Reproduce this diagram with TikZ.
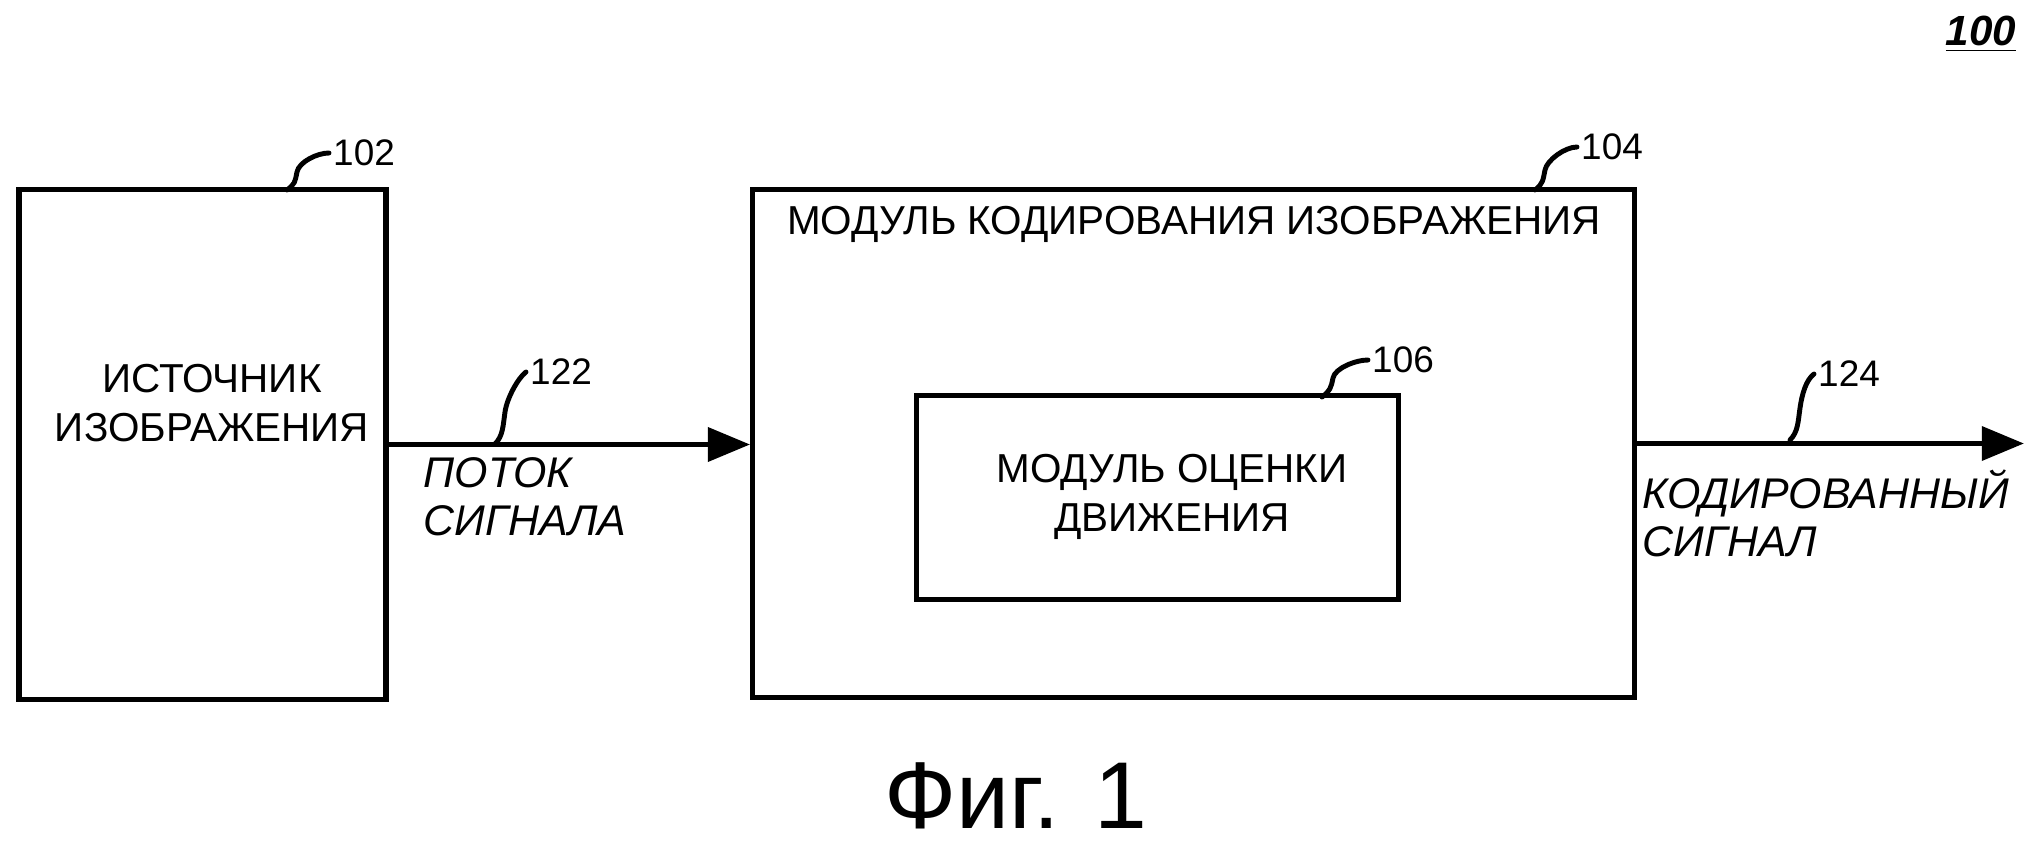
\documentclass[tikz,border=0pt]{standalone}
\usepackage{fontspec}
\setmainfont{Liberation Sans}
\usetikzlibrary{arrows.meta}

\begin{document}
\begin{tikzpicture}[x=0.01cm, y=-0.01cm]

\tikzset{
  block/.style = {draw, line width=1.5pt, fill=white, inner sep=0pt},
  txt/.style = {font=\fontsize{11.5}{14}\selectfont, align=center, inner sep=0pt},
  lbl/.style = {font=\fontsize{12.2}{13.7}\selectfont\itshape, align=left, inner sep=0pt, anchor=north west},
  num/.style = {font=\fontsize{10.5}{12}\selectfont, inner sep=1pt, anchor=west},
  sig/.style = {line width=1.6pt, -{Triangle[length=12pt, width=9.5pt]}},
  lead/.style = {line width=1.4pt, line cap=round}
}

\useasboundingbox (0,0) rectangle (2030,846);

\node[font=\fontsize{12}{14}\selectfont\bfseries\itshape] (n100) at (1981,34) {\underline{100}};

\node[block, minimum width=3.67cm, minimum height=5.09cm] (b102) at (202.5,444.5) {};
\node[txt] (t102) at (212,403) {ИСТОЧНИК\\ИЗОБРАЖЕНИЯ};

\node[block, minimum width=8.81cm, minimum height=5.07cm] (b104) at (1193.5,443.5) {};
\node[txt, anchor=north] (t104) at (1194,206) {МОДУЛЬ КОДИРОВАНИЯ ИЗОБРАЖЕНИЯ};

\node[block, line width=1.4pt, minimum width=4.81cm, minimum height=2.03cm] (b106) at (1157.5,497.5) {};
\node[txt] (t106) at (1172,497) {МОДУЛЬ ОЦЕНКИ\\ДВИЖЕНИЯ};

\coordinate (out) at (2024,443.5);
\draw[sig] (b102.east) -- (b104.west |- b102.east);
\draw[sig] (b104.east) -- (out);

\node[lbl] (l122) at (423,457) {ПОТОК\\СИГНАЛА};
\node[lbl] (l124) at (1642,469) {КОДИРОВАННЫЙ\\СИГНАЛ};

\node[num] (n102) at (329,153) {102};
\node[num] (n104) at (1577,147) {104};
\node[num] (n106) at (1368,360) {106};
\node[num] (n122) at (526,372) {122};
\node[num] (n124) at (1814,374) {124};

\coordinate (s102) at (287,190);
\coordinate (s104) at (1535,190);
\coordinate (s106) at (1322,397);
\coordinate (s122) at (495,444);
\coordinate (s124) at (1790,440);

\draw[lead] (s102) .. controls +(8,-6) and +(-2,10) .. (297,172) .. controls +(2,-10) and +(-12,0) .. (n102.west);
\draw[lead] (s104) .. controls +(8,-6) and +(-2,10) .. (1545,170) .. controls +(2,-10) and +(-12,0) .. (n104.west);
\draw[lead] (s106) .. controls +(8,-6) and +(-2,10) .. (1333,378) .. controls +(2,-10) and +(-12,0) .. (n106.west);
\draw[lead] (s122) .. controls +(8,-8) and +(-2,14) .. (505,412) .. controls +(2,-14) and +(-8,6) .. (n122.west);
\draw[lead] (s124) .. controls +(8,-8) and +(-2,14) .. (1800,408) .. controls +(2,-14) and +(-8,6) .. (n124.west);

\node[font=\fontsize{27}{30}\selectfont] (fig) at (1016,796) {Фиг. 1};

\end{tikzpicture}
\end{document}
